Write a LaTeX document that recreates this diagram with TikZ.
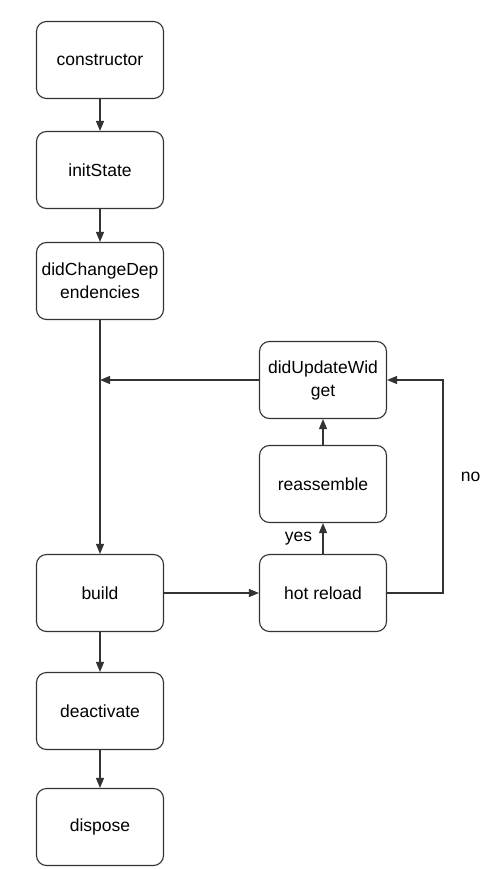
\documentclass[tikz,border=0pt]{standalone}
\usepackage{fontspec}
\setmainfont{Liberation Sans}
\usepackage{tikz}
\usetikzlibrary{positioning, calc, arrows.meta}

\begin{document}
\begin{tikzpicture}[x=1pt, y=-1pt,
	box/.style={draw=black!80, line width=1.1pt, rounded corners=10pt, minimum width=127pt, minimum height=77pt, align=center, inner sep=0pt, font=\fontsize{17.5}{23}\selectfont},
	line/.style={draw=black!80, line width=1.1pt},
	arr/.style={line, -{Triangle[length=10pt, width=8pt]}},
	lbl/.style={font=\fontsize{17.5}{23}\selectfont}]
			\useasboundingbox (0,0) rectangle (491,869);
			
			% left column
			\node[box] (constructor) at (100, 60) {constructor};
			\node[box] (initstate) at (100, 170) {initState};
			\node[box] (didchange) at (100, 281) {didChangeDep\\endencies};
			\node[box] (build) at (100, 593) {build};
			\node[box] (deactivate) at (100, 711) {deactivate};
			\node[box] (dispose) at (100, 827) {dispose};
			
			% right column
			\node[box] (didupdate) at (323, 380) {didUpdateWid\\get};
			\node[box] (reassemble) at (323, 484) {reassemble};
			\node[box] (hotreload) at (323, 593) {hot reload};
			
			\coordinate (join) at (100, 380);
			\coordinate (turn) at (443, 380);
			\coordinate (corner) at (443, 593);
			
			\draw[arr] (constructor) -- (initstate);
			\draw[arr] (initstate) -- (didchange);
			\draw[arr] (didchange) -- (build);
			\draw[arr] (build) -- (deactivate);
			\draw[arr] (deactivate) -- (dispose);
			
			\draw[arr] (didupdate.west) -- (join);
			\draw[arr] (build) -- (hotreload);
			\draw[arr] (hotreload) -- node[lbl, left=7pt, pos=0.5] (yes) {yes} (reassemble);
			\draw[arr] (reassemble) -- (didupdate);
			\draw[arr] (hotreload.east) -- (corner) -- node[lbl, right=14pt, pos=0.545] (no) {no} (turn) -- (didupdate.east);
			\end{tikzpicture}
\end{document}
